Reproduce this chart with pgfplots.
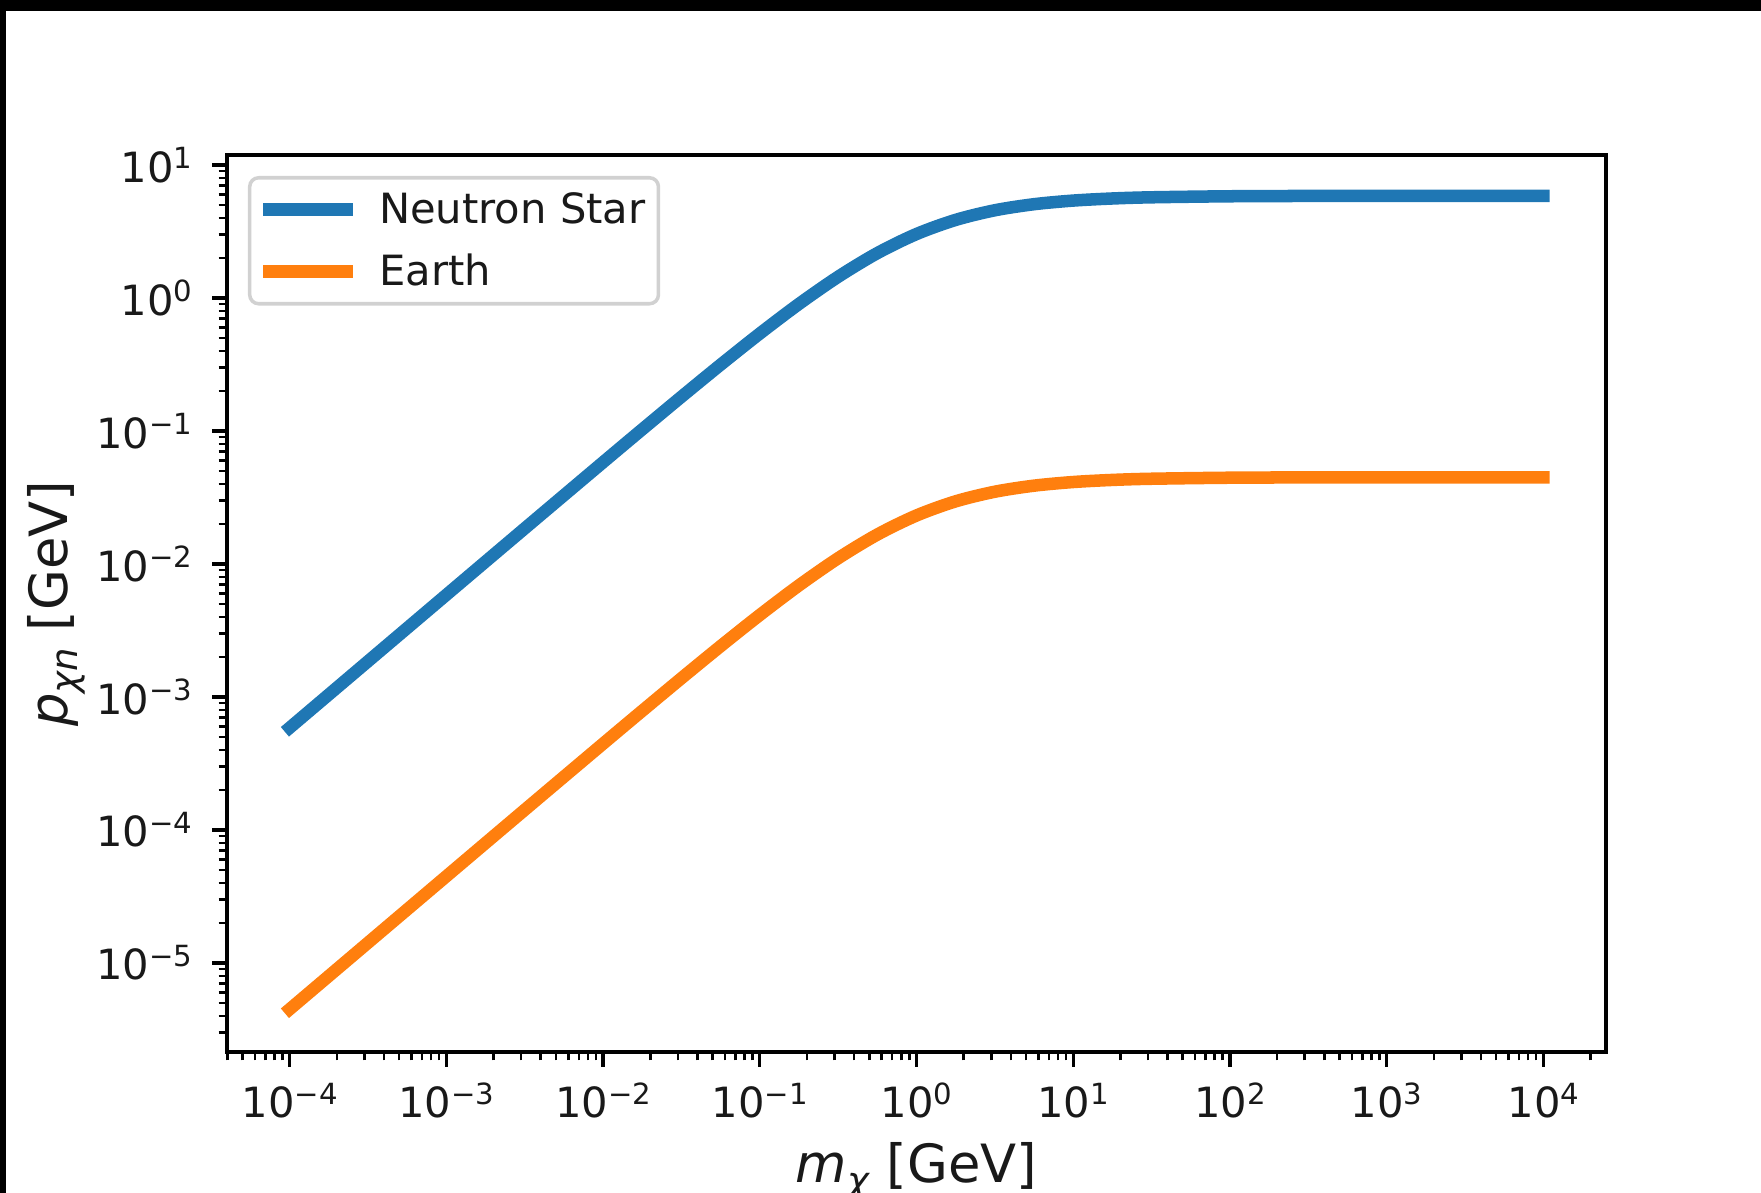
\documentclass[border=0pt]{standalone}
\usepackage{pgfplots}
\pgfplotsset{compat=1.18}
\usepackage{fontspec}
\setmainfont{DejaVu Sans}
\definecolor{tabblue}{HTML}{1F77B4}
\definecolor{taborange}{HTML}{FF7F0E}
% power-of-ten tick label set in the text font
\newcommand{\ep}[1]{10\raisebox{0.32em}{\fontsize{8.3}{9}\selectfont #1}}

\pgfplotstableread{
m          ns          earth
1e-4       5.870e-4    4.490e-6
1e-3       5.866e-3    4.487e-5
3.1623e-3  1.852e-2    1.4166e-4
1e-2       5.824e-2    4.455e-4
1.7783e-2  0.10291     7.871e-4
3.1623e-2  0.18091     1.3838e-3
5.6234e-2  0.31519     2.4109e-3
0.1        0.54054     4.1346e-3
0.17783    0.90268     6.905e-3
0.31623    1.4447      1.1051e-2
0.56234    2.1762      1.6646e-2
1          3.0287      2.3167e-2
1.7783     3.8694      2.9597e-2
3.1623     4.570       3.4956e-2
5.6234     5.076       3.8826e-2
10         5.4054      4.1346e-2
17.783     5.605       4.2873e-2
31.623     5.721       4.3760e-2
100        5.824       4.4548e-2
316.23     5.856       4.4793e-2
1000       5.865       4.4862e-2
1e4        5.8695      4.4896e-2
}\pxn

\begin{document}
\begin{tikzpicture}
\useasboundingbox (0,0) rectangle (176.1mm,119.3mm);
\fill[black] (0,118.2mm) rectangle (176.1mm,119.3mm);
\fill[black] (0,0) rectangle (0.6mm,119.3mm);
\begin{axis}[
  at={(22.7mm,14.1mm)}, anchor=south west,
  scale only axis, width=137.9mm, height=89.7mm,
  xmode=log, ymode=log,
  xmin=3.981e-5, xmax=2.512e4,
  ymin=2.14e-6, ymax=11.9,
  axis line style={line width=0.95pt, black},
  tick pos=left, tick align=outside,
  major tick length=1.46mm, minor tick length=0.83mm,
  major tick style={line width=0.95pt, black},
  minor tick style={line width=0.71pt, black},
  xtick={1e-4,1e-3,1e-2,1e-1,1,10,100,1000,10000},
  xticklabels={\ep{−4},\ep{−3},\ep{−2},\ep{−1},\ep{0},\ep{1},\ep{2},\ep{3},\ep{4}},
  ytick={1e-5,1e-4,1e-3,1e-2,1e-1,1,10},
  yticklabels={\ep{−5},\ep{−4},\ep{−3},\ep{−2},\ep{−1},\ep{0},\ep{1}},
  minor xtick={4e-5,5e-5,6e-5,7e-5,8e-5,9e-5,
    2e-4,3e-4,4e-4,5e-4,6e-4,7e-4,8e-4,9e-4,
    2e-3,3e-3,4e-3,5e-3,6e-3,7e-3,8e-3,9e-3,
    2e-2,3e-2,4e-2,5e-2,6e-2,7e-2,8e-2,9e-2,
    0.2,0.3,0.4,0.5,0.6,0.7,0.8,0.9,
    2,3,4,5,6,7,8,9,
    20,30,40,50,60,70,80,90,
    200,300,400,500,600,700,800,900,
    2000,3000,4000,5000,6000,7000,8000,9000,
    20000},
  minor ytick={3e-6,4e-6,5e-6,6e-6,7e-6,8e-6,9e-6,
    2e-5,3e-5,4e-5,5e-5,6e-5,7e-5,8e-5,9e-5,
    2e-4,3e-4,4e-4,5e-4,6e-4,7e-4,8e-4,9e-4,
    2e-3,3e-3,4e-3,5e-3,6e-3,7e-3,8e-3,9e-3,
    2e-2,3e-2,4e-2,5e-2,6e-2,7e-2,8e-2,9e-2,
    0.2,0.3,0.4,0.5,0.6,0.7,0.8,0.9,
    2,3,4,5,6,7,8,9},
  ticklabel style={font=\fontsize{11.85}{14}\selectfont, text=black!90, inner sep=0pt},
  xticklabel style={anchor=north, yshift=-1.55mm},
  yticklabel style={anchor=east, xshift=-1.95mm},
  every axis x label/.style={at={(axis description cs:0.5,-0.146)}, anchor=base,
    font=\fontsize{15}{18}\selectfont, text=black!90},
  every axis y label/.style={at={(axis description cs:-0.116,0.5)}, rotate=90, anchor=base,
    font=\fontsize{15}{18}\selectfont, text=black!90},
  xlabel={\textit{m}\raisebox{-0.2em}{\fontsize{10.5}{12}\selectfont\textit{χ}} [GeV]},
  ylabel={\textit{p}\raisebox{-0.2em}{\fontsize{10.5}{12}\selectfont\textit{χn}} [GeV]},
  legend cell align=left,
  legend style={
    at={(0.0152,0.9766)}, anchor=north west,
    draw=black!18, line width=1pt, rounded corners=0.9mm, fill=white,
    font=\fontsize{11.85}{14}\selectfont, text=black!90,
    inner xsep=1.3mm, inner ysep=0.1mm,
    row sep=0pt, column sep=2.6mm,
    nodes={inner sep=0pt, text height=4.5mm, text depth=1.7mm},
  },
  legend image code/.code={\draw[#1, line cap=rect] (0.6mm,0mm) -- (8.4mm,0mm);},
]
\addplot[tabblue, line width=3.56pt, line cap=rect, smooth] table[x=m, y=ns] {\pxn};
\addlegendentry{Neutron Star}
\addplot[taborange, line width=3.56pt, line cap=rect, smooth] table[x=m, y=earth] {\pxn};
\addlegendentry{Earth}
\end{axis}
\end{tikzpicture}
\end{document}
